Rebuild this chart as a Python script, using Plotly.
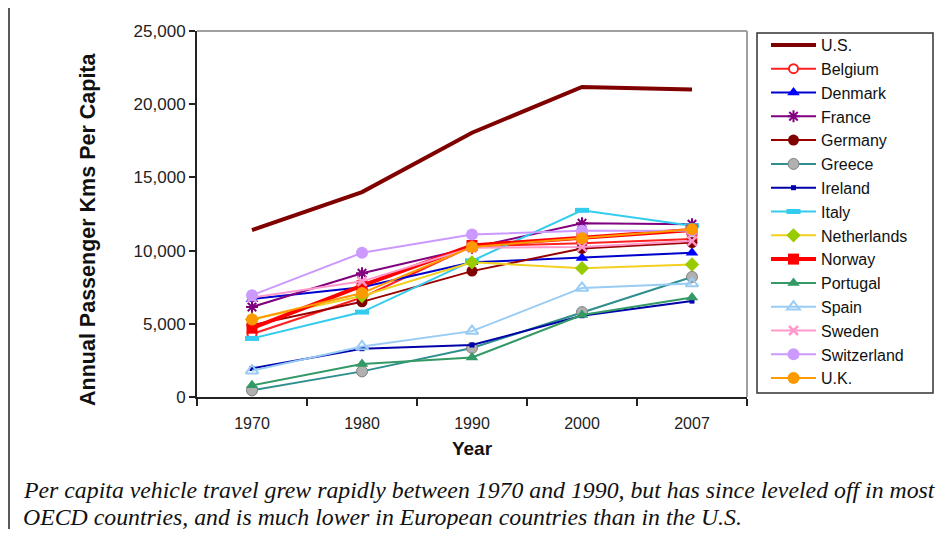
import plotly.graph_objects as go

years = ["1970", "1980", "1990", "2000", "2007"]

us = [11400, 14000, 18050, 21180, 21000]
belgium = [4300, 6800, 10300, 10500, 10800]
denmark = [6700, 7500, 9200, 9500, 9850]
france = [6150, 8450, 10200, 11870, 11800]
germany = [4900, 6500, 8600, 10150, 10550]
greece = [450, 1750, 3350, 5800, 8200]
ireland = [1950, 3300, 3550, 5550, 6550]
italy = [4000, 5800, 9300, 12750, 11700]
netherlands = [5300, 6900, 9200, 8800, 9050]
norway = [4700, 7600, 10350, 10900, 11400]
portugal = [800, 2250, 2700, 5600, 6800]
spain = [1800, 3450, 4500, 7450, 7750]
sweden = [6800, 7900, 10200, 10250, 10650]
switzerland = [6950, 9850, 11100, 11350, 11350]
uk = [5300, 7100, 10250, 10850, 11450]

series = [
    ("U.S.", us, dict(color="#800000", width=4), None),
    ("Belgium", belgium, dict(color="#FF2020", width=2),
     dict(symbol="circle", color="white", size=9, line=dict(color="#FF2020", width=2))),
    ("Denmark", denmark, dict(color="#0000CC", width=2),
     dict(symbol="triangle-up", color="#0000FF", size=11)),
    ("France", france, dict(color="#800080", width=2),
     dict(symbol="asterisk-open", color="#800080", size=10, line=dict(color="#800080", width=2))),
    ("Germany", germany, dict(color="#990000", width=2),
     dict(symbol="circle", color="#800000", size=11)),
    ("Greece", greece, dict(color="#2F8F8F", width=2),
     dict(symbol="circle", color="#B0B0B0", size=11, line=dict(color="#808080", width=1))),
    ("Ireland", ireland, dict(color="#0000AA", width=2),
     dict(symbol="square", color="#0000AA", size=5)),
    ("Italy", italy, dict(color="#33CCEE", width=2),
     dict(symbol="line-ew", color="#33CCEE", size=10, line=dict(color="#33CCEE", width=5))),
    ("Netherlands", netherlands, dict(color="#F2D020", width=2),
     dict(symbol="diamond", color="#99CC00", size=11)),
    ("Norway", norway, dict(color="#FF0000", width=4),
     dict(symbol="square", color="#FF0000", size=11)),
    ("Portugal", portugal, dict(color="#339966", width=2),
     dict(symbol="triangle-up", color="#339966", size=11)),
    ("Spain", spain, dict(color="#99CCF5", width=2),
     dict(symbol="triangle-up-open", color="#99CCF5", size=11, line=dict(color="#99CCF5", width=2))),
    ("Sweden", sweden, dict(color="#FF99CC", width=2),
     dict(symbol="x-thin-open", color="#FF99CC", size=9, line=dict(color="#FF99CC", width=2.5))),
    ("Switzerland", switzerland, dict(color="#CC99FF", width=2),
     dict(symbol="circle", color="#CC99FF", size=12)),
    ("U.K.", uk, dict(color="#FF9900", width=2),
     dict(symbol="circle", color="#FF9900", size=12)),
]

fig = go.Figure()
for name, vals, line, marker in series:
    if marker is None:
        fig.add_trace(go.Scatter(x=years, y=vals, name=name, mode="lines", line=line))
    else:
        fig.add_trace(go.Scatter(x=years, y=vals, name=name, mode="lines+markers",
                                 line=line, marker=marker))

font_sans = "Liberation Sans, Arial, sans-serif"

# page body has an 8px margin; figure is sized to fit inside the 950x537 window
W, H = 934, 521
L, T = 189, 23
PW, PH = 550, 366


def py(page_y):
    return ((T + PH) - (page_y - 8)) / PH


def px(page_x):
    return (page_x - 8 - L) / PW


fig.update_layout(
    width=W, height=H,
    margin=dict(l=L, r=W - L - PW, t=T, b=H - T - PH),
    paper_bgcolor="white", plot_bgcolor="white",
    font=dict(family=font_sans, size=16, color="#222"),
    showlegend=True,
    legend=dict(
        x=px(766), y=py(28), xanchor="left", yanchor="top",
        borderwidth=0,
        font=dict(family=font_sans, size=16, color="#111"),
        itemwidth=45, bgcolor="rgba(0,0,0,0)", maxheight=600,
    ),
    xaxis=dict(
        type="category", range=[-0.5, 4.5],
        tickson="boundaries", ticks="outside", ticklen=7, tickwidth=2, tickcolor="#222",
        showline=True, linecolor="#222", linewidth=2, showgrid=False, zeroline=False,
        tickfont=dict(size=16, color="#222"), ticklabelstandoff=11,
        title=dict(text="<b>Year</b>", font=dict(size=19, color="#111"), standoff=10),
    ),
    yaxis=dict(
        range=[0, 25000], dtick=5000, tickformat=",d",
        ticks="outside", ticklen=6, tickwidth=1.5, tickcolor="#222",
        showline=True, linecolor="#222", linewidth=2, showgrid=False, zeroline=False,
        tickfont=dict(size=17, color="#222"),
    ),
)

# y-axis title
fig.add_annotation(xref="paper", yref="paper", x=px(88), y=py(229),
                   xanchor="center", yanchor="middle", showarrow=False, textangle=-90,
                   text="<b>Annual Passenger Kms Per Capita</b>",
                   font=dict(family=font_sans, size=21.5, color="#111"))

# gray frame on top/right of plot area
fig.add_shape(type="line", xref="paper", yref="paper", x0=0, x1=1, y0=1, y1=1,
              line=dict(color="#A0A0A0", width=2), layer="below")
fig.add_shape(type="line", xref="paper", yref="paper", x0=1, x1=1, y0=0, y1=1,
              line=dict(color="#A0A0A0", width=2), layer="below")
# legend box
fig.add_shape(type="rect", xref="paper", yref="paper",
              x0=px(757), x1=px(933), y0=py(393), y1=py(33),
              line=dict(color="#333", width=1.5), fillcolor="rgba(0,0,0,0)")
# left page frame
fig.add_shape(type="line", xref="paper", yref="paper",
              x0=px(9), x1=px(9), y0=py(537), y1=py(8),
              line=dict(color="#222", width=1.5))

caption_font = dict(family="Liberation Serif, Times New Roman, serif", size=23.8, color="#111")
fig.add_annotation(xref="paper", yref="paper", x=px(21), y=py(490),
                   xanchor="left", yanchor="middle", showarrow=False,
                   text="<i>Per capita vehicle travel grew rapidly between 1970 and 1990, but has since leveled off in most</i>",
                   font=caption_font)
fig.add_annotation(xref="paper", yref="paper", x=px(21), y=py(517),
                   xanchor="left", yanchor="middle", showarrow=False,
                   text="<i>OECD countries, and is much lower in European countries than in the U.S.</i>",
                   font=caption_font)

fig.write_html("out.html")
